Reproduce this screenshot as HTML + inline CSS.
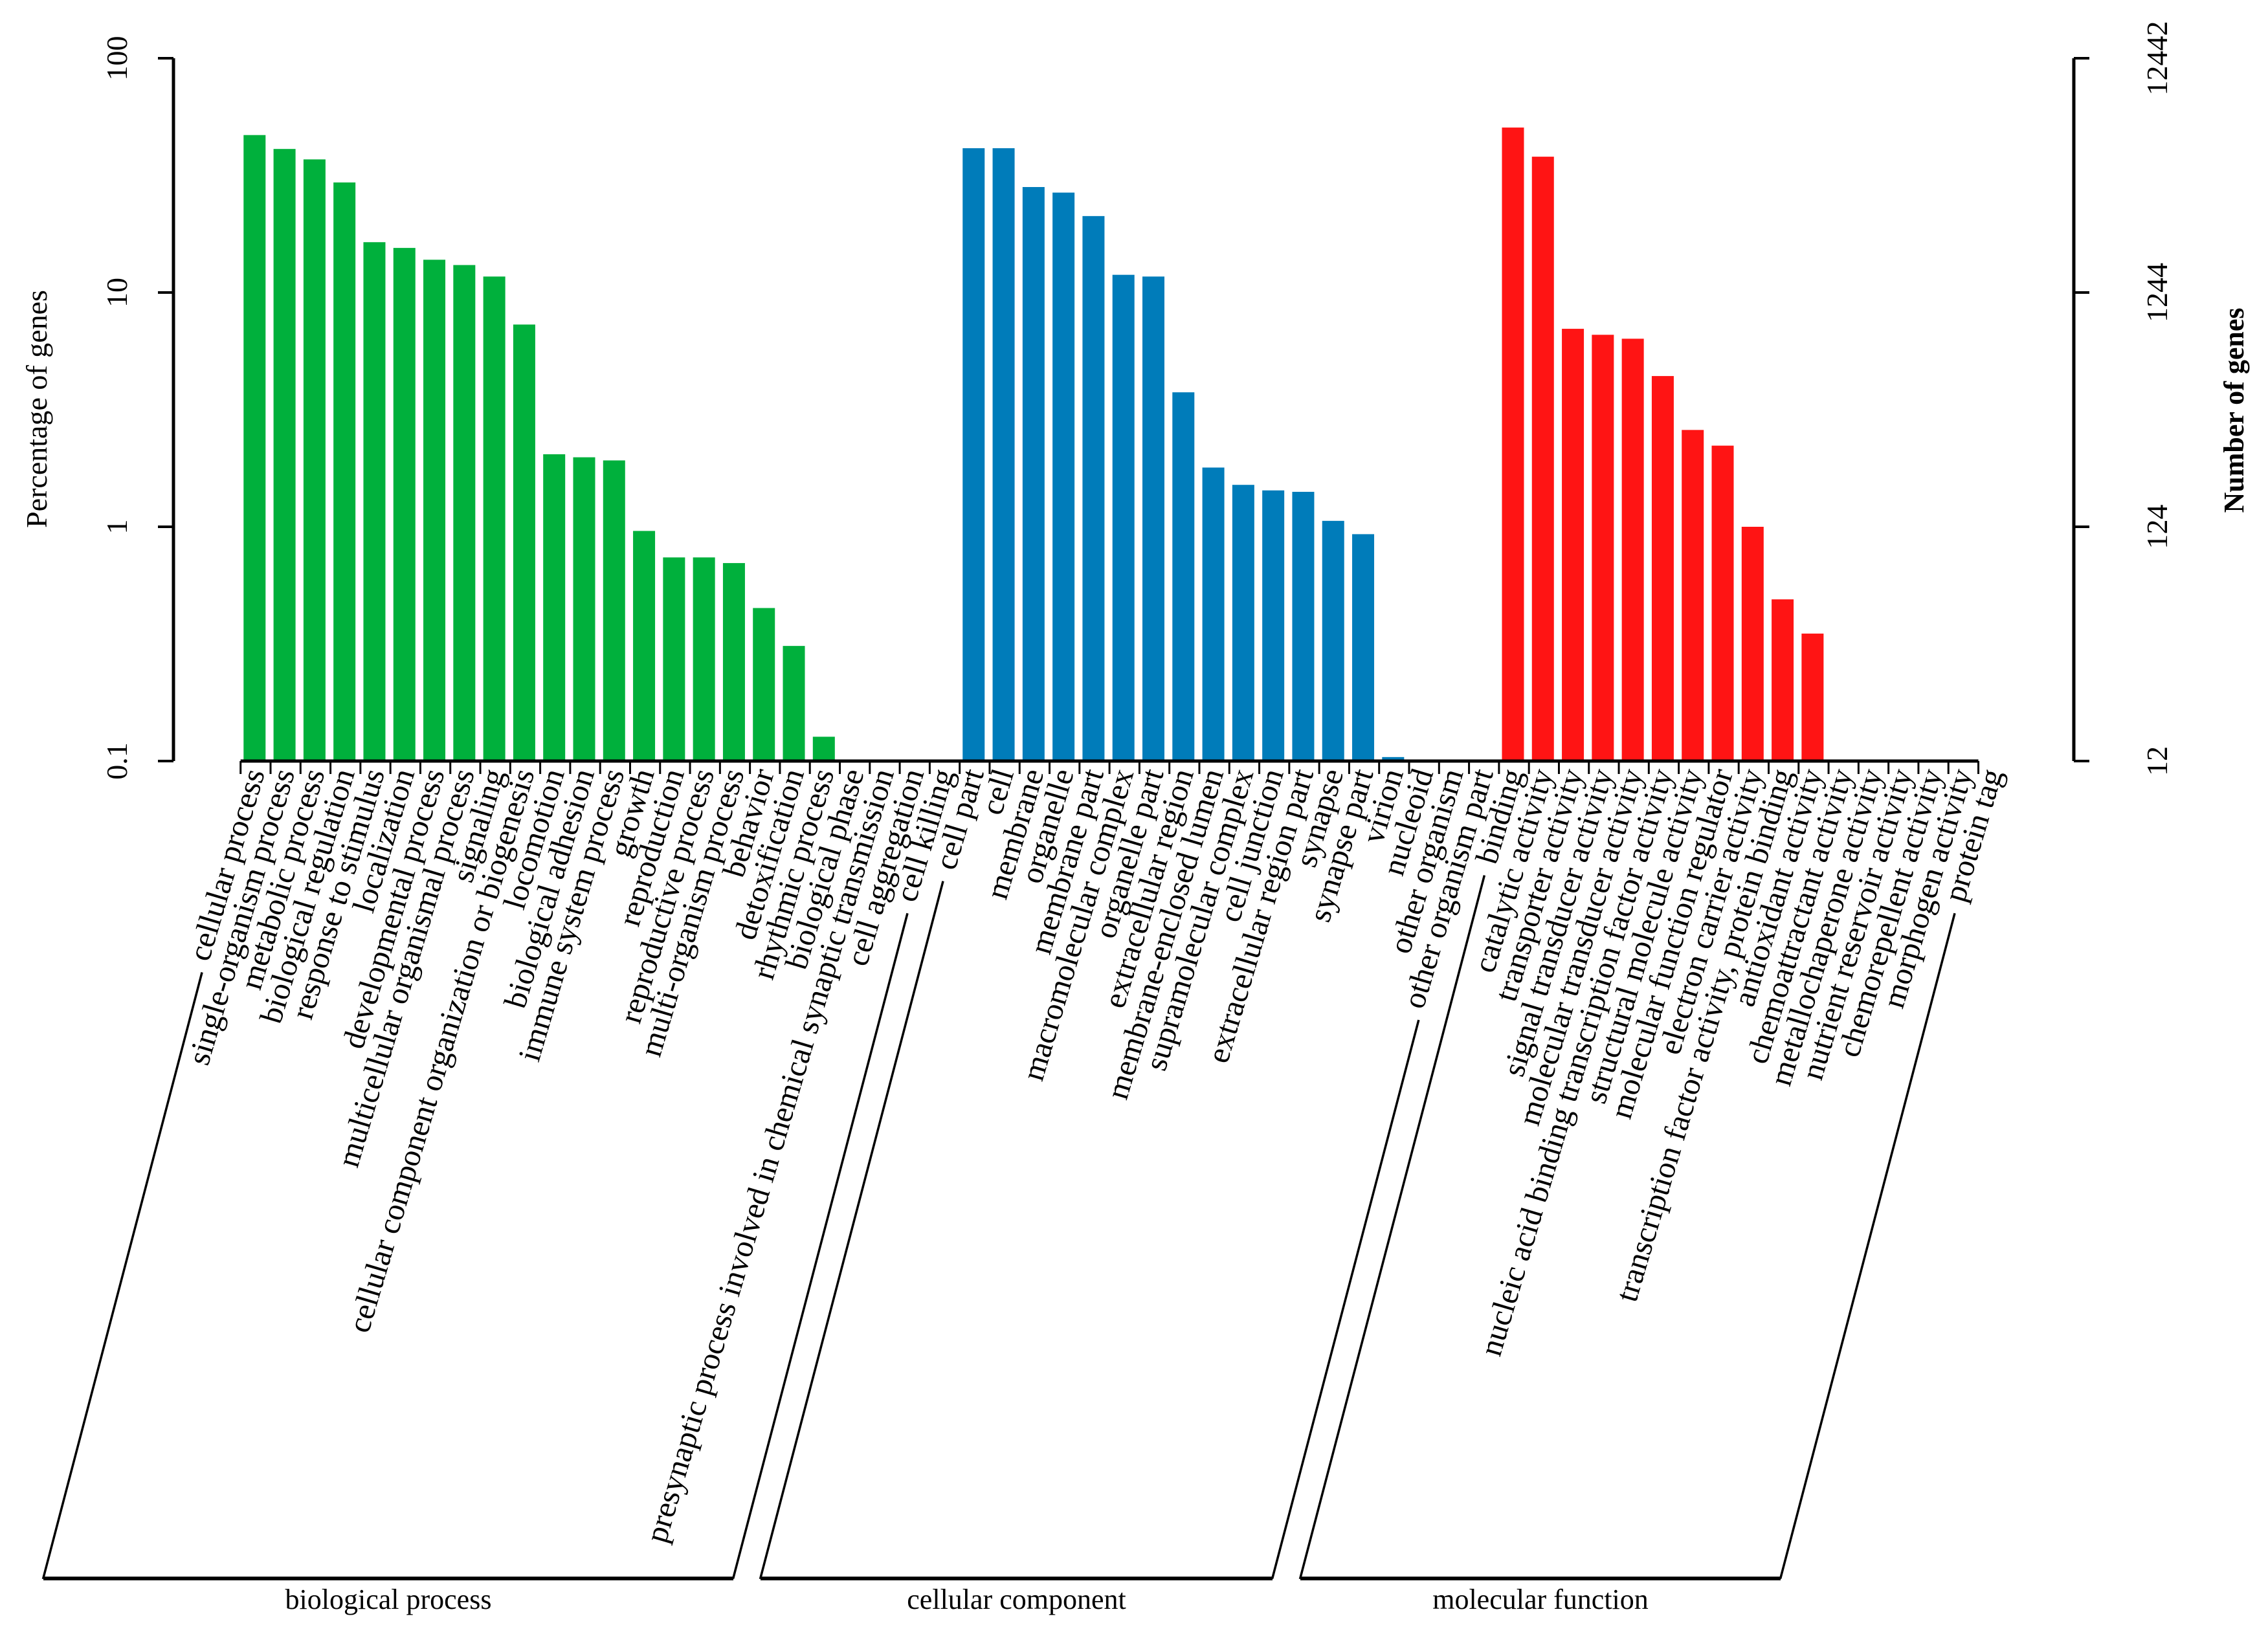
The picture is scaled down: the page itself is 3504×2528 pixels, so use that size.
<!DOCTYPE html>
<html><head><meta charset="utf-8"><style>
html,body{margin:0;padding:0;background:#fff;}
svg{display:block;}
text{font-family:"Liberation Serif",serif;fill:#000;}
</style></head><body>
<svg id="chart" width="3504" height="2528" viewBox="0 0 3504 2528" xmlns="http://www.w3.org/2000/svg">
<g id="axes">
<line x1="268" y1="90" x2="268" y2="1176" stroke="#000" stroke-width="5"/>
<line x1="3204" y1="90" x2="3204" y2="1176" stroke="#000" stroke-width="5"/>
<text transform="translate(72,632) rotate(-90)" text-anchor="middle" font-size="46">Percentage of genes</text>
<text transform="translate(3466,634) rotate(-90)" text-anchor="middle" font-size="44" font-weight="bold">Number of genes</text>
</g>
<g id="ticks"></g>
<g id="bars"></g>
<g id="xaxis"></g>
<g id="labels"></g>
<g id="groups"></g>
</svg>
<script>
const bpCategories = ["cellular process","single-organism process","metabolic process","biological regulation","response to stimulus","localization","developmental process","multicellular organismal process","signaling","cellular component organization or biogenesis","locomotion","biological adhesion","immune system process","growth","reproduction","reproductive process","multi-organism process","behavior","detoxification","rhythmic process","biological phase","presynaptic process involved in chemical synaptic transmission","cell aggregation","cell killing"];
const bpValues = [47,41,37,29.5,16.4,15.5,13.8,13.1,11.7,7.3,2.04,1.98,1.92,0.96,0.74,0.74,0.70,0.45,0.31,0.127,0,0,0,0];
const ccCategories = ["cell part","cell","membrane","organelle","membrane part","macromolecular complex","organelle part","extracellular region","membrane-enclosed lumen","supramolecular complex","cell junction","extracellular region part","synapse","synapse part","virion","nucleoid","other organism","other organism part"];
const ccValues = [41.3,41.3,28.2,26.7,21.2,11.9,11.7,3.75,1.79,1.51,1.43,1.41,1.06,0.93,0.104,0,0,0];
const mfCategories = ["binding","catalytic activity","transporter activity","signal transducer activity","molecular transducer activity","nucleic acid binding transcription factor activity","structural molecule activity","molecular function regulator","electron carrier activity","transcription factor activity, protein binding","antioxidant activity","chemoattractant activity","metallochaperone activity","nutrient reservoir activity","chemorepellent activity","morphogen activity","protein tag"];
const mfValues = [50.6,38,7.0,6.6,6.35,4.4,2.59,2.22,1.0,0.49,0.35,0,0,0,0,0,0];
const groupNames = ["biological process","cellular component","molecular function"];
const leftTickValues = [0.1,1,10,100];
const leftTickLabels = ["0.1","1","10","100"];
const rightTickLabels = ["12","124","1244","12442"];

const NS="http://www.w3.org/2000/svg";
function mk(tag,attrs,parent){const e=document.createElementNS(NS,tag);for(const k in attrs)e.setAttribute(k,attrs[k]);parent.appendChild(e);return e;}
const Y0=1176, DEC=362, X0=376.3, STEP=46.29, BW=34, ANG=73.5;
const CA=Math.cos(ANG*Math.PI/180), SA=Math.sin(ANG*Math.PI/180);
function yScale(v){return Y0-DEC*Math.log10(v/0.1);}
function xScale(i){return X0+i*STEP;}

const tg=document.getElementById('ticks');
leftTickValues.forEach((v,i)=>{
  const y=yScale(v);
  const l=mk('line',{x1:244,y1:y,x2:268,y2:y,stroke:'#000','stroke-width':4},tg);
  
  
  const t=mk('text',{transform:`translate(196,${y}) rotate(-90)`,'text-anchor':'middle','font-size':46},tg);
  t.textContent=leftTickLabels[i];
  
  
  const r=mk('line',{x1:3204,y1:y,x2:3228,y2:y,stroke:'#000','stroke-width':4},tg);
  
  
  const rt=mk('text',{transform:`translate(3348,${y}) rotate(-90)`,'text-anchor':'middle','font-size':46},tg);
  rt.textContent=rightTickLabels[i];
  
  
});

const groups=[
 {cats:bpCategories,vals:bpValues,color:'#00b03c',bl:67,br:1133},
 {cats:ccCategories,vals:ccValues,color:'#007cba',bl:1175,br:1966},
 {cats:mfCategories,vals:mfValues,color:'#ff1414',bl:2009,br:2751}
];
const bg=document.getElementById('bars'), lg=document.getElementById('labels'), xg=document.getElementById('xaxis'), gg=document.getElementById('groups');
const total=bpCategories.length+ccCategories.length+mfCategories.length;
const axl=mk('line',{x1:xScale(0)-4.6,y1:Y0,x2:xScale(total-1)-4.6,y2:Y0,stroke:'#000','stroke-width':5},xg);


for(let i=0;i<total;i++){
  const tx=xScale(i)-4.6;
  const tk=mk('line',{x1:tx,y1:Y0,x2:tx,y2:Y0+20,stroke:'#000','stroke-width':3},xg);
  
  
}
const SL=0.262, BOT=2438;
let idx=0;
groups.forEach((g,gi)=>{
  const starts=[];
  g.cats.forEach((c,j)=>{
    const i=idx+j, v=g.vals[j], x=xScale(i);
    if(v>0.1){
      const y=yScale(v);
      const b=mk('rect',{x:x,y:y,width:BW,height:Y0-y,fill:g.color},bg);
      
      
    }
    const ax=x+BW/2+16, ay=Y0+18;
    const t=mk('text',{transform:`translate(${ax},${ay}) rotate(-${ANG})`,'text-anchor':'end','font-size':49},lg);
    t.textContent=c;
    
    
    const len=t.getComputedTextLength();
    starts.push({x:ax-len*CA,y:ay+len*SA});
  });
  idx+=g.cats.length;
  const topL=starts[0].y+15, topR=starts[starts.length-1].y+15;
  const p=`M${g.bl+(BOT-topL)*SL},${topL} L${g.bl},${BOT} L${g.br},${BOT} L${g.br+(BOT-topR)*SL},${topR}`;
  const br=mk('path',{d:p,fill:'none',stroke:'#000','stroke-width':3.5},gg);
  
  
  const bl2=mk('line',{x1:g.bl,y1:BOT+2,x2:g.br,y2:BOT+2,stroke:'#000','stroke-width':4},gg);
  
  
  const gt=mk('text',{x:(g.bl+g.br)/2,y:2486,'text-anchor':'middle','font-size':44},gg);
  gt.textContent=groupNames[gi];
  
  
});
</script>
</body></html>
